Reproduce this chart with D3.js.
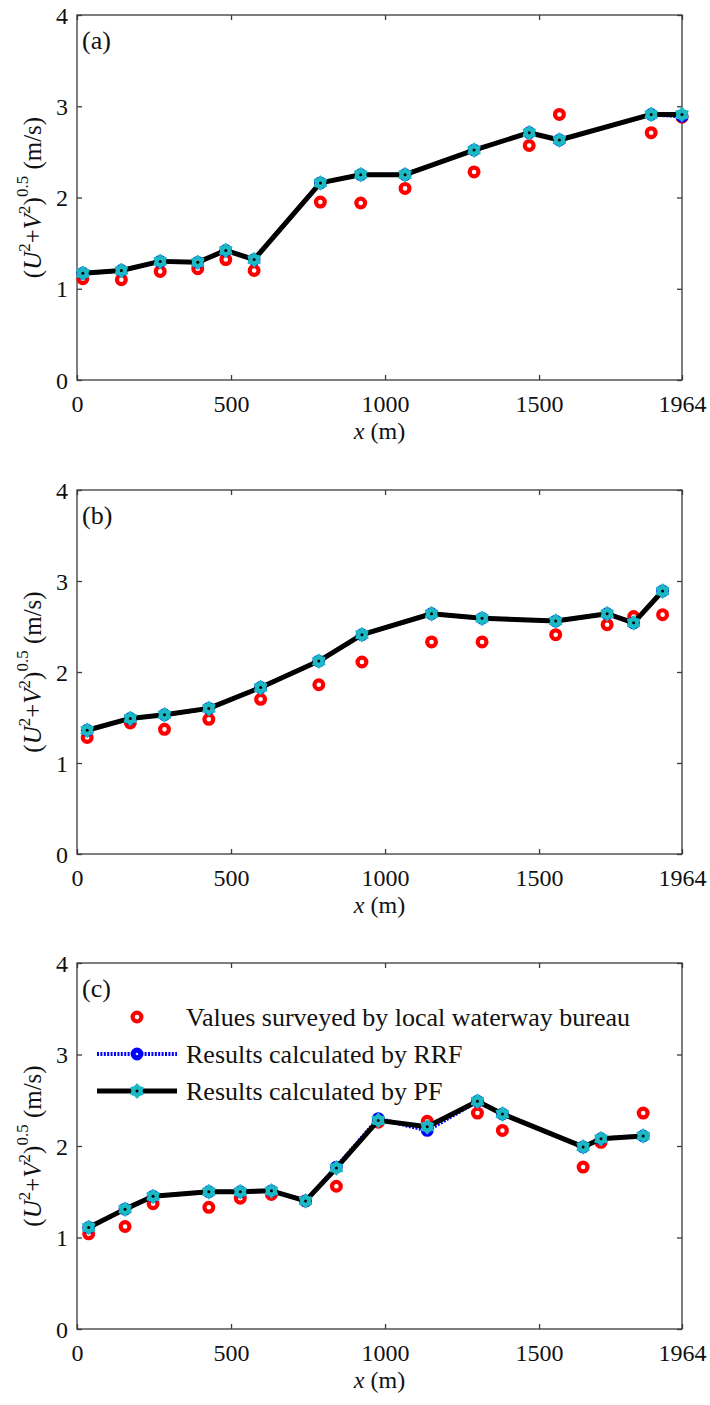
<!DOCTYPE html>
<html><head><meta charset="utf-8">
<script src="https://cdn.jsdelivr.net/npm/d3@7/dist/d3.min.js"></script>
<style>body{margin:0;background:#fff}svg{display:block}svg text{font-family:"Liberation Serif","Times New Roman",serif}</style>
</head><body>
<svg id="c" width="710" height="1405"></svg>
<script>
// ---- data ----
const xTicks = [0, 500, 1000, 1500, 1964];
const yTicks = [0, 1, 2, 3, 4];
const panelLabels = ["(a)", "(b)", "(c)"];
const legendLabels = ["Values surveyed by local waterway bureau", "Results calculated by RRF", "Results calculated by PF"];

// panel (a)
const xA   = [19, 144, 270, 392, 483, 575, 790, 921, 1065, 1289, 1468, 1566, 1864, 1964];
const obsA = [1.11, 1.10, 1.19, 1.22, 1.32, 1.20, 1.95, 1.94, 2.10, 2.28, 2.57, 2.91, 2.71, 2.88];
const rrfA = [1.17, 1.20, 1.30, 1.29, 1.42, 1.32, 2.16, 2.25, 2.25, 2.52, 2.71, 2.63, 2.91, 2.89];
const pfA  = [1.17, 1.20, 1.30, 1.29, 1.42, 1.32, 2.16, 2.25, 2.25, 2.52, 2.71, 2.63, 2.91, 2.91];

// panel (b)
const xB   = [33, 173, 284, 428, 596, 785, 925, 1151, 1315, 1554, 1721, 1807, 1901];
const obsB = [1.28, 1.44, 1.37, 1.48, 1.70, 1.86, 2.11, 2.33, 2.33, 2.41, 2.52, 2.61, 2.63];
const rrfB = [1.36, 1.49, 1.53, 1.60, 1.83, 2.12, 2.41, 2.64, 2.59, 2.56, 2.64, 2.54, 2.89];
const pfB  = [1.36, 1.49, 1.53, 1.60, 1.83, 2.12, 2.41, 2.64, 2.59, 2.56, 2.64, 2.54, 2.89];

// panel (c)
const xC   = [38, 156, 247, 428, 530, 631, 742, 842, 978, 1137, 1300, 1381, 1643, 1701, 1838];
const obsC = [1.04, 1.12, 1.37, 1.33, 1.43, 1.47, 1.40, 1.56, 2.26, 2.27, 2.36, 2.17, 1.77, 2.04, 2.36];
const rrfC = [1.11, 1.31, 1.45, 1.50, 1.50, 1.51, 1.40, 1.77, 2.30, 2.17, 2.49, 2.35, 1.99, 2.08, 2.11];
const pfC  = [1.11, 1.31, 1.45, 1.50, 1.50, 1.51, 1.40, 1.76, 2.28, 2.21, 2.49, 2.35, 1.99, 2.08, 2.11];

// ---- layout ----
const svg = d3.select("#c");
const FONT = '"Liberation Serif","Times New Roman",serif';
const left = 77, right = 682;
const panels = [
  {top: 15,  bottom: 380,  x: xA, obs: obsA, rrf: rrfA, pf: pfA, label: panelLabels[0]},
  {top: 490, bottom: 854,  x: xB, obs: obsB, rrf: rrfB, pf: pfB, label: panelLabels[1]},
  {top: 963, bottom: 1329, x: xC, obs: obsC, rrf: rrfC, pf: pfC, label: panelLabels[2], legend: true}
];

const RED = "#ff0000", BLUE = "#0000ff", CYAN = "#1cb9c4";

function hexagram(R, r) {
  const pts = [];
  for (let i = 0; i < 12; i++) {
    const a = -Math.PI / 2 + i * Math.PI / 6;
    const rad = i % 2 === 0 ? R : r;
    pts.push([rad * Math.cos(a), rad * Math.sin(a)]);
  }
  return "M" + pts.map(p => p[0].toFixed(2) + "," + p[1].toFixed(2)).join("L") + "Z";
}
const hexPath = hexagram(7, 5);

function drawObs(g, x, y) {
  g.append("circle").attr("cx", x).attr("cy", y).attr("r", 4.4)
    .attr("fill", "#fff").attr("stroke", RED).attr("stroke-width", 4.2);
}
function drawRRF(g, x, y) {
  g.append("circle").attr("cx", x).attr("cy", y).attr("r", 5.2)
    .attr("fill", BLUE).attr("stroke", BLUE).attr("stroke-width", 2.4);
  g.append("circle").attr("cx", x).attr("cy", y).attr("r", 1.3).attr("fill", "#c8d8ff");
}
function drawPF(g, x, y) {
  g.append("path").attr("d", hexPath).attr("transform", `translate(${x},${y})`)
    .attr("fill", CYAN).attr("stroke", CYAN).attr("stroke-width", 1.2).attr("stroke-linejoin", "round");
  g.append("circle").attr("cx", x).attr("cy", y).attr("r", 1.5).attr("fill", "#000");
}

panels.forEach(p => {
  const xs = d3.scaleLinear().domain([0, 1964]).range([left, right]);
  const ys = d3.scaleLinear().domain([0, 4]).range([p.bottom, p.top]);
  const g = svg.append("g");

  const axCol = "#3a3a3a";
  g.append("rect").attr("x", left).attr("y", p.top).attr("width", right - left).attr("height", p.bottom - p.top)
    .attr("fill", "none").attr("stroke", axCol).attr("stroke-width", 1.3);

  const bottomAxis = d3.axisBottom(xs).tickValues(xTicks).tickSizeInner(-5).tickSizeOuter(0).tickFormat(d3.format("d")).tickPadding(10);
  const topAxis = d3.axisTop(xs).tickValues(xTicks).tickSizeInner(-5).tickSizeOuter(0).tickFormat("");
  const leftAxis = d3.axisLeft(ys).tickValues(yTicks).tickSizeInner(-5).tickSizeOuter(0).tickFormat(d3.format("d")).tickPadding(10);
  const rightAxis = d3.axisRight(ys).tickValues(yTicks).tickSizeInner(-5).tickSizeOuter(0).tickFormat("");

  const gb = g.append("g").attr("transform", `translate(0,${p.bottom})`).call(bottomAxis);
  const gt = g.append("g").attr("transform", `translate(0,${p.top})`).call(topAxis);
  const gl = g.append("g").attr("transform", `translate(${left},0)`).call(leftAxis);
  const gr = g.append("g").attr("transform", `translate(${right},0)`).call(rightAxis);
  [gb, gt, gl, gr].forEach(a => {
    a.attr("font-family", null).attr("font-size", null);
    a.select(".domain").remove();
    a.selectAll(".tick line").attr("stroke", axCol).attr("stroke-width", 1.3);
    a.selectAll(".tick text").style("font-family", FONT).style("font-size", "24px").attr("fill", "#111");
  });
  gb.selectAll(".tick text").attr("dy", null).attr("y", 32);
  gl.selectAll(".tick text").attr("x", -9).attr("dy", "0.34em");

  // x label
  const xl = g.append("text").attr("x", (left + right) / 2).attr("y", p.bottom + 59)
    .attr("text-anchor", "middle").style("font-family", FONT).style("font-size", "24px").attr("fill", "#111");
  xl.append("tspan").attr("font-style", "italic").text("x");
  xl.append("tspan").text(" (m)");

  // y label
  const cy = (p.top + p.bottom) / 2;
  const yl = g.append("text").attr("transform", `translate(41,${cy}) rotate(-90)`)
    .attr("text-anchor", "middle").style("font-family", FONT).style("font-size", "25px").attr("fill", "#111");
  yl.append("tspan").text("(");
  yl.append("tspan").attr("font-style", "italic").text("U");
  yl.append("tspan").style("font-size", "17px").attr("dy", -11).text("2");
  yl.append("tspan").attr("dy", 11).text("+");
  yl.append("tspan").attr("font-style", "italic").text("V");
  yl.append("tspan").style("font-size", "17px").attr("dy", -11).text("2");
  yl.append("tspan").attr("dy", 11).text(")");
  yl.append("tspan").style("font-size", "17px").attr("dy", -13).text("0.5");
  yl.append("tspan").attr("dy", 13).text(" (m/s)");

  // panel label
  g.append("text").attr("x", 82).attr("y", p.top + 34).style("font-family", FONT).style("font-size", "26px")
    .attr("fill", "#111").text(p.label);

  // data
  const obsPts = p.x.map((d, i) => [xs(d), ys(p.obs[i])]);
  const rrfPts = p.x.map((d, i) => [xs(d), ys(p.rrf[i])]);
  const pfPts  = p.x.map((d, i) => [xs(d), ys(p.pf[i])]);
  const line = d3.line();

  obsPts.forEach(q => drawObs(g, q[0], q[1]));

  g.append("path").attr("d", line(rrfPts)).attr("fill", "none").attr("stroke", BLUE)
    .attr("stroke-width", 4).attr("stroke-dasharray", "2,1.4");
  rrfPts.forEach(q => drawRRF(g, q[0], q[1]));

  g.append("path").attr("d", line(pfPts)).attr("fill", "none").attr("stroke", "#000")
    .attr("stroke-width", 5).attr("stroke-linejoin", "round");
  pfPts.forEach(q => drawPF(g, q[0], q[1]));

  if (p.legend) {
    const lx0 = 97, lx1 = 177, mx = 137, tx = 186;
    const rows = [p.top + 54, p.top + 91, p.top + 128];
    const lg = g.append("g");
    drawObs(lg, mx, rows[0]);
    lg.append("path").attr("d", line([[lx0, rows[1]], [lx1, rows[1]]])).attr("stroke", BLUE)
      .attr("stroke-width", 4).attr("stroke-dasharray", "2,1.4");
    drawRRF(lg, mx, rows[1]);
    lg.append("path").attr("d", line([[lx0, rows[2]], [lx1, rows[2]]])).attr("stroke", "#000").attr("stroke-width", 5);
    drawPF(lg, mx, rows[2]);
    legendLabels.forEach((t, i) => {
      lg.append("text").attr("x", tx).attr("y", rows[i]).attr("dy", "0.34em")
        .style("font-family", FONT).style("font-size", "26px").attr("fill", "#111").text(t);
    });
  }
});
</script>
</body></html>
